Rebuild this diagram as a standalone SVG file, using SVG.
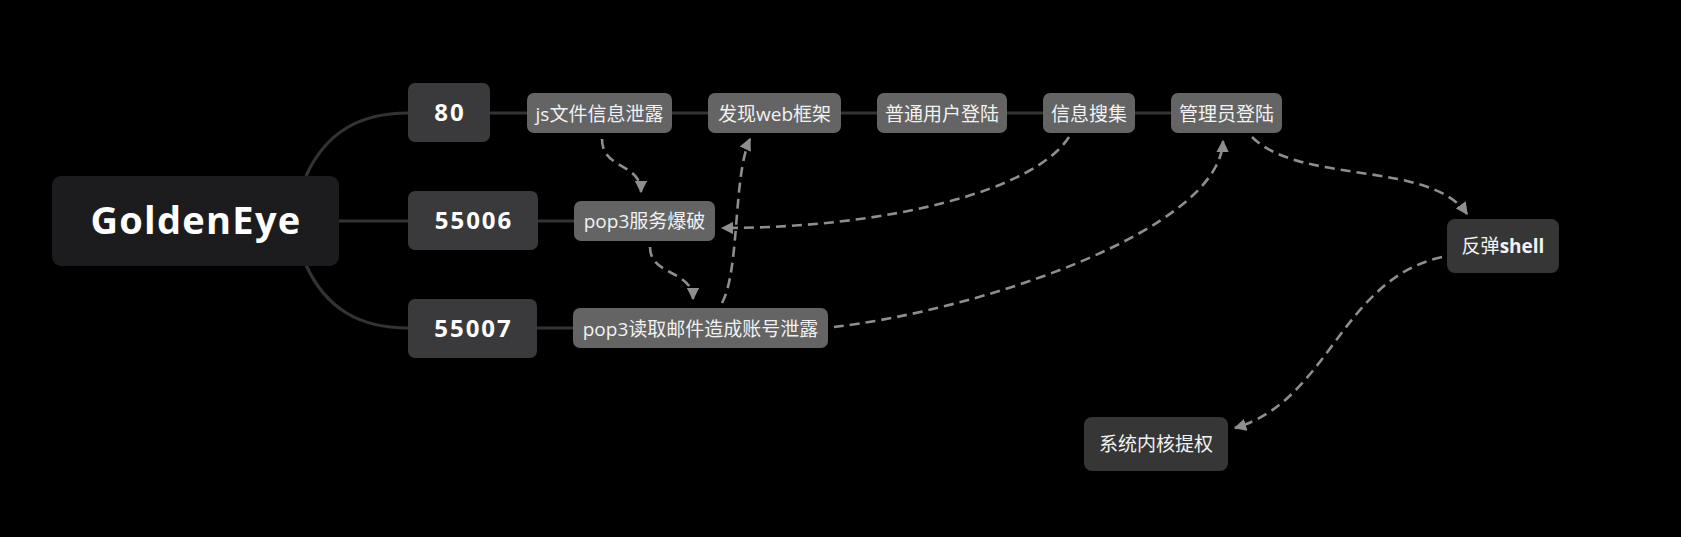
<svg xmlns="http://www.w3.org/2000/svg" width="1681" height="537" viewBox="0 0 1681 537">
<defs>
<style>
.root{fill:#1c1c1e}
.l1{fill:#3a3a3c}
.l2{fill:#646464}
.l3{fill:#363636}
.t{font-family:"Open Sans","Noto Sans CJK SC",sans-serif;fill:#ffffff;text-anchor:middle}
.tb{font-weight:700}
.num{font-size:24px;letter-spacing:2px}
.ts{font-size:19px;fill:#f2f2f2}
.solid{fill:none;stroke:#333333;stroke-width:3.2}
.dash{fill:none;stroke:#8e8e8e;stroke-width:2.6;stroke-dasharray:10 6;marker-end:url(#arr)}
</style>
<marker id="arr" viewBox="0 0 10 10" refX="9" refY="5" markerWidth="4.8" markerHeight="4.8" orient="auto" markerUnits="strokeWidth">
<path d="M0,0 L10,5 L0,10 Z" fill="#8e8e8e"/>
</marker>
</defs>
<rect width="1681" height="537" fill="#000000"/>
<g id="connectors">
<path class="solid" d="M306,176 C326,132 360,113 408,113"/>
<path class="solid" d="M339,221 L408,221"/>
<path class="solid" d="M306,265 C326,309 360,328 408,328"/>
<path class="solid" d="M490,113 L527,113"/>
<path class="solid" d="M672,113 L708,113"/>
<path class="solid" d="M841,113 L877,113"/>
<path class="solid" d="M1007,113 L1043,113"/>
<path class="solid" d="M1135,113 L1171,113"/>
<path class="solid" d="M538,221 L574,221"/>
<path class="solid" d="M537,328 L573,328"/>
<path class="dash" d="M602,139 C602,170 641,162 641,192"/>
<path class="dash" d="M650,247 C650,276 693,270 693,299"/>
<path class="dash" d="M722,303 C740,270 733,175 750,139"/>
<path class="dash" d="M1069,137 C1035,190 890,228 722,228"/>
<path class="dash" d="M834,327 C980,310 1220,230 1223,141"/>
<path class="dash" d="M1252,137 C1300,185 1430,160 1467,214"/>
<path class="dash" d="M1442,257 C1340,280 1330,400 1235,428"/>
</g>
<g id="node-goldeneye">
<rect class="root" x="52" y="176" width="287" height="90" rx="9"/>
<text class="t tb" x="196" y="234" font-size="38" letter-spacing="1.3">GoldenEye</text>
</g>
<g id="node-80">
<rect class="l1" x="408" y="83" width="82" height="59" rx="7"/>
<text class="t tb num" x="450" y="121">80</text>
</g>
<g id="node-55006">
<rect class="l1" x="408" y="191" width="130" height="59" rx="7"/>
<text class="t tb num" x="474" y="229">55006</text>
</g>
<g id="node-55007">
<rect class="l1" x="408" y="299" width="129" height="59" rx="7"/>
<text class="t tb num" x="473.5" y="337">55007</text>
</g>
<g id="node-js">
<rect class="l2" x="527" y="93" width="145" height="40" rx="7"/>
<text class="t ts" x="599.5" y="120.5">js文件信息泄露</text>
</g>
<g id="node-web">
<rect class="l2" x="708" y="93" width="133" height="40" rx="7"/>
<text class="t ts" x="774.5" y="120.5">发现web框架</text>
</g>
<g id="node-user">
<rect class="l2" x="877" y="93" width="130" height="40" rx="7"/>
<text class="t ts" x="942" y="120.5">普通用户登陆</text>
</g>
<g id="node-info">
<rect class="l2" x="1043" y="93" width="92" height="40" rx="7"/>
<text class="t ts" x="1089" y="120.5">信息搜集</text>
</g>
<g id="node-admin">
<rect class="l2" x="1171" y="93" width="111" height="40" rx="7"/>
<text class="t ts" x="1226.5" y="120.5">管理员登陆</text>
</g>
<g id="node-pop3brute">
<rect class="l2" x="574" y="201" width="141" height="40" rx="7"/>
<text class="t ts" x="644.5" y="228">pop3服务爆破</text>
</g>
<g id="node-pop3read">
<rect class="l2" x="573" y="308" width="255" height="40" rx="7"/>
<text class="t ts" x="700.5" y="335.5">pop3读取邮件造成账号泄露</text>
</g>
<g id="node-shell">
<rect class="l3" x="1447" y="219" width="112" height="54" rx="8"/>
<text class="t ts" x="1503" y="253">反弹<tspan font-weight="700">shell</tspan></text>
</g>
<g id="node-kernel">
<rect class="l3" x="1084" y="417" width="144" height="54" rx="8"/>
<text class="t ts" x="1156" y="451">系统内核提权</text>
</g>
</svg>
